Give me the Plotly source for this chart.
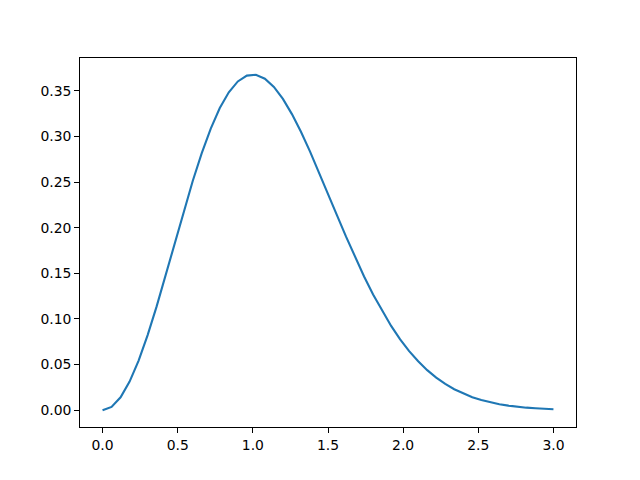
import plotly.graph_objects as go

x_vals = [round(i * 0.06, 2) for i in range(51)]
y_vals = [0.0, 0.0036, 0.0142, 0.0314, 0.0544, 0.0823, 0.1138, 0.1479, 0.1830, 0.2178,
          0.2512, 0.2818, 0.3087, 0.3311, 0.3484, 0.3603, 0.3667, 0.3676, 0.3633, 0.3543,
          0.3412, 0.3245, 0.3051, 0.2836, 0.2608, 0.2371, 0.2135, 0.1902, 0.1678, 0.1466,
          0.1269, 0.1088, 0.0924, 0.0777, 0.0648, 0.0536, 0.0439, 0.0357, 0.0288, 0.0230,
          0.0182, 0.0142, 0.0111, 0.0086, 0.0066, 0.0050, 0.0037, 0.0028, 0.0021, 0.0015, 0.0011]
x_ticks = [0.0, 0.5, 1.0, 1.5, 2.0, 2.5, 3.0]
y_ticks = [0.00, 0.05, 0.10, 0.15, 0.20, 0.25, 0.30, 0.35]

fig = go.Figure(go.Scatter(x=x_vals, y=y_vals, mode="lines",
                           line=dict(color="#1f77b4", width=2.1)))

axis_common = dict(showgrid=False, zeroline=False, showline=True, linecolor="black",
                   linewidth=1, mirror=True, ticks="outside", ticklen=4.9, tickwidth=1,
                   tickcolor="black", tickfont=dict(family="DejaVu Sans", size=13.9, color="black"))

fig.update_layout(
    width=640, height=480,
    margin=dict(l=72, r=72, t=50, b=61),
    paper_bgcolor="white", plot_bgcolor="white",
    showlegend=False,
    xaxis=dict(range=[-0.15, 3.15], tickvals=x_ticks,
               ticktext=[f"{v:.1f}" for v in x_ticks], **axis_common),
    yaxis=dict(range=[-0.01838, 0.38598], tickvals=y_ticks,
               ticktext=[f"{v:.2f}" for v in y_ticks], **axis_common),
)

fig.write_html("out.html")
